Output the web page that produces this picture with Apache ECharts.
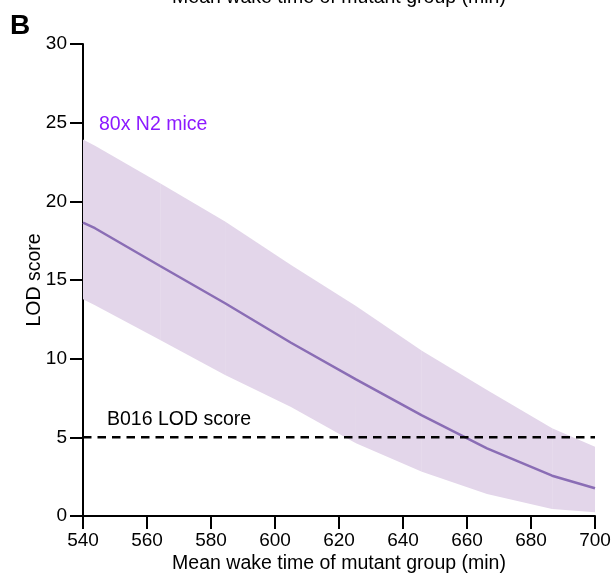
<!DOCTYPE html>
<html>
<head>
<meta charset="utf-8">
<script src="https://cdn.jsdelivr.net/npm/echarts@6/dist/echarts.min.js"></script>
<style>html,body{margin:0;padding:0;background:#fff}#c{width:616px;height:581px}</style>
</head>
<body>
<div id="c"></div>
<script>
// Mean wake time of mutant group (min)
var wakeTimes = [540, 543.75, 564.1, 584.4, 605, 625.3, 645.9, 666.25, 686.6, 700];
// LOD score (80x N2 mice)
var lodMean  = [18.64, 18.29, 15.89, 13.52, 11.01, 8.68, 6.39, 4.30, 2.56, 1.76];
var lodUpper = [23.93, 23.54, 21.15, 18.72, 15.95, 13.35, 10.51, 8.01, 5.57, 4.40];
var lodLower = [13.77, 13.39, 11.19, 8.96, 6.93, 4.62, 2.82, 1.40, 0.44, 0.24];
var thresholdLOD = [5];
var xTicks = [540, 700, 20];
var yTicks = [0, 30, 5];

var FONT = 'Liberation Sans, Arial, Helvetica, sans-serif';
var chart = echarts.init(document.getElementById('c'), null, {renderer: 'canvas'});

var lineData = wakeTimes.map(function (x, i) { return [x, lodMean[i]]; });
var bandData = wakeTimes.map(function (x, i) { return [x, lodLower[i], lodUpper[i]]; });
var threshData = [[xTicks[0], thresholdLOD[0]], [xTicks[1], thresholdLOD[0]]];

var option = {
  animation: false,
  backgroundColor: '#ffffff',
  textStyle: {fontFamily: FONT},
  grid: {left: 83, right: 21, top: 44, bottom: 65, containLabel: false, outerBoundsMode: 'none'},
  xAxis: {
    type: 'value', min: xTicks[0], max: xTicks[1], interval: xTicks[2],
    name: 'Mean wake time of mutant group (min)', nameLocation: 'middle', nameGap: 38, nameMoveOverlap: false,
    nameTextStyle: {fontSize: 19.5, color: '#000', fontFamily: FONT},
    axisLine: {show: true, onZero: false, lineStyle: {color: '#000', width: 2}},
    axisTick: {show: true, length: 13, lineStyle: {color: '#000', width: 2}},
    axisLabel: {fontSize: 19, color: '#000', margin: 15, fontFamily: FONT},
    splitLine: {show: false}
  },
  yAxis: {
    type: 'value', min: yTicks[0], max: yTicks[1], interval: yTicks[2],
    name: 'LOD score', nameLocation: 'middle', nameGap: 38, nameMoveOverlap: false,
    nameTextStyle: {fontSize: 19.5, color: '#000', fontFamily: FONT},
    axisLine: {show: true, onZero: false, lineStyle: {color: '#000', width: 2}},
    axisTick: {show: true, length: 13, lineStyle: {color: '#000', width: 2}},
    axisLabel: {fontSize: 19, color: '#000', margin: 16, fontFamily: FONT},
    splitLine: {show: false}
  },
  graphic: [
    {type: 'text', left: 10, top: 12, style: {text: 'B', font: 'bold 28px ' + FONT, fill: '#000'}},
    {type: 'text', x: 339, y: -2, style: {text: 'Mean wake time of mutant group (min)', fontSize: 19.5, fontFamily: FONT, fill: '#000', align: 'center', verticalAlign: 'middle'}},
    {type: 'text', x: 99, y: 124.5, z: 10, style: {text: '80x N2 mice', fontSize: 19.5, fontFamily: FONT, fill: '#8c1aff', align: 'left', verticalAlign: 'middle'}},
    {type: 'text', x: 107, y: 420, z: 10, style: {text: 'B016 LOD score', fontSize: 19.5, fontFamily: FONT, fill: '#000', align: 'left', verticalAlign: 'middle'}}
  ],
  series: [
    {
      type: 'custom', name: 'band', z: 1, silent: true,
      data: bandData,
      renderItem: function (params, api) {
        var i = params.dataIndex;
        if (i >= bandData.length - 1) return null;
        var a = bandData[i], b = bandData[i + 1];
        var pts = [
          api.coord([a[0], a[2]]), api.coord([b[0], b[2]]),
          api.coord([b[0], b[1]]), api.coord([a[0], a[1]])
        ];
        return {type: 'polygon', shape: {points: pts}, style: {fill: '#e3d6ea'}};
      }
    },
    {
      type: 'line', name: 'mean', z: 3, data: lineData, symbol: 'none', smooth: false,
      lineStyle: {color: '#8a6db5', width: 2.5}
    },
    {
      type: 'line', name: 'threshold', z: 4, data: threshData, symbol: 'none',
      lineStyle: {color: '#000', width: 2.5, type: [8.5, 6]}
    }
  ]
};
chart.setOption(option);
</script>
</body>
</html>
